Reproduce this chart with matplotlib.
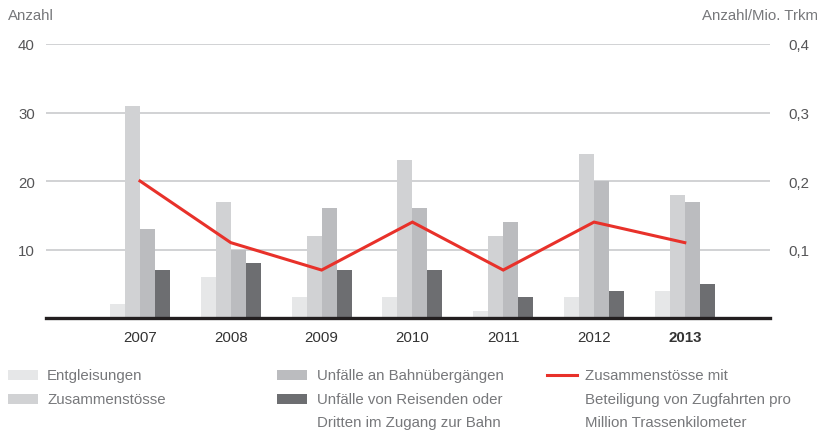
import matplotlib
matplotlib.use("Agg")
import matplotlib.pyplot as plt
import numpy as np

# --------------------------------------------------------------------- data
jahre = ["2007", "2008", "2009", "2010", "2011", "2012", "2013"]
entgleisungen = [2, 6, 3, 3, 1, 3, 4]
zusammenstoesse = [31, 17, 12, 23, 12, 24, 18]
bahnuebergaenge = [13, 10, 16, 16, 14, 20, 17]
reisende_dritte = [7, 8, 7, 7, 3, 4, 5]
quote_pro_mio_trkm = [0.20, 0.11, 0.07, 0.14, 0.07, 0.14, 0.11]

links_ticks = [10, 20, 30, 40]
rechts_ticks = [0.1, 0.2, 0.3, 0.4]

# --------------------------------------------------------------------- stil
plt.rcParams["font.family"] = ["Liberation Sans", "DejaVu Sans"]
farben = ["#e6e7e8", "#d1d2d4", "#bbbcbf", "#6d6e71"]
rot = "#e8312a"
grid_c = "#d1d2d4"
text_c = "#555557"
leg_c = "#77787b"
fs = 10.8

fig = plt.figure(figsize=(8.19, 4.31), dpi=100)
ax = fig.add_axes([46 / 819, 1 - 319 / 431, (770 - 46) / 819, (319 - 45) / 431])

x = np.arange(len(jahre))
w = 0.165
serien = [entgleisungen, zusammenstoesse, bahnuebergaenge, reisende_dritte]
for i, (werte, c) in enumerate(zip(serien, farben)):
    ax.bar(x + (i - 1.5) * w, werte, width=w, color=c, linewidth=0, zorder=2)

ax.set_xlim((46 - 140) / 90.8, (770 - 140) / 90.8)
ax.set_ylim(0, 40)
ax.set_yticks(links_ticks)
ax.set_yticklabels([str(t) for t in links_ticks])
for t in links_ticks:
    ax.axhline(t, color=grid_c, lw=1.4, zorder=1)
ax.axhline(0, color="#231f20", lw=2.4, zorder=4, clip_on=False)

ax.set_xticks(x)
ax.set_xticklabels(jahre)
for lbl in ax.get_xticklabels():
    lbl.set_color("#333333")
ax.get_xticklabels()[-1].set_fontweight("bold")
ax.tick_params(axis="x", length=0, pad=9, labelsize=fs)
ax.tick_params(axis="y", length=0, pad=8, labelsize=fs, labelcolor=text_c)
for s in ax.spines.values():
    s.set_visible(False)

ax2 = ax.twinx()
ax2.plot(x, quote_pro_mio_trkm, color=rot, lw=2.2, zorder=5, solid_joinstyle="miter")
ax2.set_ylim(0, 0.4)
ax2.set_yticks(rechts_ticks)
ax2.set_yticklabels([f"{t:.1f}".replace(".", ",") for t in rechts_ticks])
ax2.tick_params(axis="y", length=0, pad=13, labelsize=fs, labelcolor=text_c)
for s in ax2.spines.values():
    s.set_visible(False)

fig.text(8 / 819, 1 - 16 / 431, "Anzahl", ha="left", va="center",
         fontsize=fs, color=leg_c)
fig.text(818 / 819, 1 - 16 / 431, "Anzahl/Mio. Trkm", ha="right", va="center",
         fontsize=fs, color=leg_c)

# --------------------------------------------------------------------- legende
def patch(x0, yc, c):
    fig.patches.append(plt.Rectangle((x0 / 819, 1 - (yc + 5) / 431), 30 / 819, 10 / 431,
                                     transform=fig.transFigure, color=c, lw=0))

def zeile(x0, yc, txt):
    fig.text(x0 / 819, 1 - yc / 431, txt, ha="left", va="center",
             fontsize=fs, color=leg_c)

rows = [376, 400, 423]
patch(8, rows[0], farben[0]); zeile(47, rows[0], "Entgleisungen")
patch(8, rows[1], farben[1]); zeile(47, rows[1], "Zusammenstösse")
patch(277, rows[0], farben[2]); zeile(317, rows[0], "Unfälle an Bahnübergängen")
patch(277, rows[1], farben[3]); zeile(317, rows[1], "Unfälle von Reisenden oder")
zeile(317, rows[2], "Dritten im Zugang zur Bahn")
fig.lines.append(plt.Line2D([547 / 819, 577 / 819], [1 - rows[0] / 431] * 2,
                            transform=fig.transFigure, color=rot, lw=2.2))
zeile(585, rows[0], "Zusammenstösse mit")
zeile(585, rows[1], "Beteiligung von Zugfahrten pro")
zeile(585, rows[2], "Million Trassenkilometer")

fig.savefig("out.png", dpi=100)
